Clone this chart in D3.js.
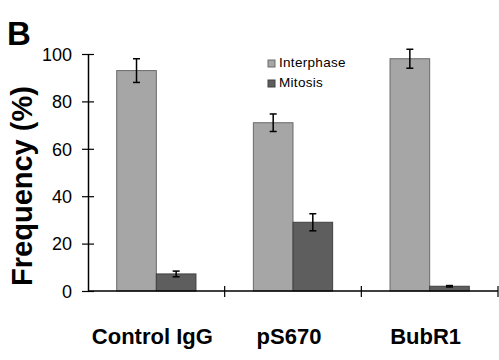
<!DOCTYPE html>
<html>
<head>
<meta charset="utf-8">
<script src="https://cdn.jsdelivr.net/npm/d3@7"></script>
<style>
  body { margin: 0; background: #fff; }
  text { font-family: Arial, "Liberation Sans", sans-serif; }
</style>
</head>
<body>
<svg id="chart" width="499" height="360"></svg>
<script>
// data
var categories = ["Control IgG", "pS670", "BubR1"];
var seriesNames = ["Interphase", "Mitosis"];
var interphase = [93, 71, 98];
var mitosis = [7.2, 29, 2];
var interphaseErr = [5, 3.7, 4];
var mitosisErr = [1.2, 3.6, 0.3];
var yTicks = [0, 20, 40, 60, 80, 100];

var colors = { Interphase: "#a6a6a6", Mitosis: "#5e5e5e" };
var strokes = { Interphase: "#6a6a6a", Mitosis: "#404040" };

var margin = { top: 54, left: 88, right: 1, bottom: 69 };
var width = 499 - margin.left - margin.right;
var height = 360 - margin.top - margin.bottom;

var svg = d3.select("#chart");
var g = svg.append("g").attr("transform", "translate(" + margin.left + "," + margin.top + ")");

var x0 = d3.scaleBand().domain(categories).range([0, width]);
var bw = x0.bandwidth();
var x1 = d3.scaleBand().domain(seriesNames).range([bw * 0.21, bw * 0.79]);
var y = d3.scaleLinear().domain([0, 100]).range([height, 0]);

// build rows for the bars
var rows = [];
categories.forEach(function(c, i) {
  rows.push({ cat: c, s: "Interphase", v: interphase[i], e: interphaseErr[i] });
  rows.push({ cat: c, s: "Mitosis", v: mitosis[i], e: mitosisErr[i] });
});

g.selectAll("rect.bar")
  .data(rows)
  .enter()
  .append("rect")
  .attr("class", "bar")
  .attr("x", function(d) { return x0(d.cat) + x1(d.s); })
  .attr("y", function(d) { return y(d.v); })
  .attr("width", x1.bandwidth())
  .attr("height", function(d) { return height - y(d.v); })
  .style("fill", function(d) { return colors[d.s]; })
  .style("stroke", function(d) { return strokes[d.s]; })
  .style("stroke-width", 1);

// error bars
var eb = g.selectAll("g.err").data(rows).enter().append("g").attr("class", "err")
  .attr("transform", function(d) { return "translate(" + (x0(d.cat) + x1(d.s) + x1.bandwidth() / 2) + ",0)"; });
eb.append("line")
  .attr("y1", function(d) { return y(d.v + d.e); })
  .attr("y2", function(d) { return y(d.v - d.e); })
  .style("stroke", "#000").style("stroke-width", 1.5);
eb.append("line").attr("x1", -3.5).attr("x2", 3.5)
  .attr("y1", function(d) { return y(d.v + d.e); })
  .attr("y2", function(d) { return y(d.v + d.e); })
  .style("stroke", "#000").style("stroke-width", 1.5);
eb.append("line").attr("x1", -3.5).attr("x2", 3.5)
  .attr("y1", function(d) { return y(d.v - d.e); })
  .attr("y2", function(d) { return y(d.v - d.e); })
  .style("stroke", "#000").style("stroke-width", 1.5);

// y axis
var yAxis = g.append("g")
  .call(d3.axisLeft(y).tickValues(yTicks).tickSize(6).tickSizeOuter(0).tickPadding(10));
yAxis.select(".domain").style("stroke", "#000").style("stroke-width", 1.5);
yAxis.selectAll(".tick line").attr("x1", 6).style("stroke-width", 1.2);
yAxis.selectAll(".tick text").style("font-size", "18px").attr("fill", "#000").attr("dy", "0.35em");

// x axis with ticks at category edges
var xAxis = g.append("g").attr("transform", "translate(0," + height + ")");
xAxis.append("line").attr("x1", 0).attr("x2", width)
  .style("stroke", "#000").style("stroke-width", 1.5);
var edges = categories.map(function(c) { return x0(c) + bw; });
xAxis.selectAll("line.edge").data(edges).enter().append("line").attr("class", "edge")
  .attr("x1", function(d) { return d; }).attr("x2", function(d) { return d; })
  .attr("y1", -5).attr("y2", 6)
  .style("stroke", "#000").style("stroke-width", 1.2);
xAxis.selectAll("text.cat").data(categories).enter().append("text").attr("class", "cat")
  .attr("x", function(d) { return x0(d) + bw / 2 - 4; })
  .attr("y", 53)
  .attr("text-anchor", "middle")
  .style("font-size", "22px").style("font-weight", "bold")
  .text(function(d) { return d; });

// y title
svg.append("text")
  .attr("transform", "translate(32,186) rotate(-90)")
  .attr("text-anchor", "middle")
  .style("font-size", "29px").style("font-weight", "bold")
  .text("Frequency (%)");

// panel letter
svg.append("text").attr("x", 7).attr("y", 45)
  .style("font-size", "33px").style("font-weight", "bold")
  .text("B");

// legend
var leg = svg.append("g").attr("transform", "translate(268,60)");
var li = leg.selectAll("g").data(seriesNames).enter().append("g")
  .attr("transform", function(d, i) { return "translate(0," + (i * 20) + ")"; });
li.append("rect").attr("width", 7).attr("height", 7)
  .style("fill", function(d) { return colors[d]; })
  .style("stroke", function(d) { return strokes[d]; });
li.append("text").attr("x", 11).attr("y", 7)
  .style("font-size", "13.5px").style("letter-spacing", "0.3px")
  .text(function(d) { return d; });
</script>
</body>
</html>
